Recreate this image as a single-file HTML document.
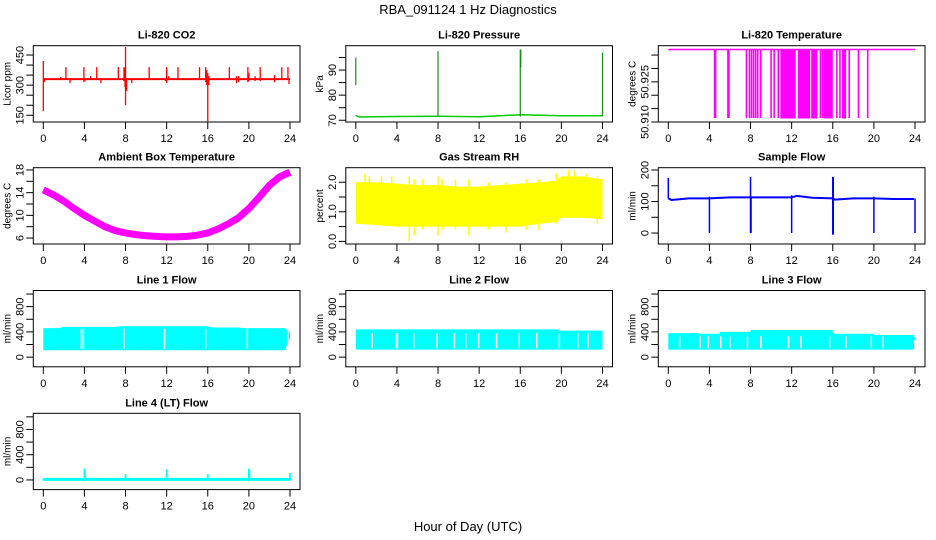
<!DOCTYPE html>
<html><head><meta charset="utf-8"><style>
html,body{margin:0;padding:0;background:#fff}
svg{display:block;font-family:"Liberation Sans",Arial,sans-serif}
</style></head><body>
<svg id="chart" width="936" height="540" viewBox="0 0 936 540" xmlns="http://www.w3.org/2000/svg">
<text x="468" y="14" font-size="13" text-anchor="middle">RBA_091124  1 Hz Diagnostics</text>
<text x="468" y="531" font-size="13" text-anchor="middle">Hour of Day (UTC)</text>
</svg>
<script>
// ---- data ----
const xTicks = [0,4,8,12,16,20,24];
// CO2
const co2BaseHours = [0,24];
const co2BaseVals = [330,330];
const co2SpikeHours = [0,0.1,1.7,2.2,2.6,3.95,4.05,4.6,5.2,5.6,6.5,7.3,7.85,7.95,8.0,8.1,8.6,10.3,11.9,12.0,12.2,13.1,15.2,15.8,15.9,16.0,16.1,18.1,18.8,19.0,19.9,20.0,20.6,21.1,22.5,23.2,23.8,23.9];
const co2SpikeHigh = [420,335,340,390,335,390,335,345,390,330,330,390,390,385,490,335,330,390,330,390,345,390,390,390,375,360,345,390,345,345,390,360,345,390,350,390,390,330];
const co2SpikeLow  = [170,315,330,330,310,315,320,330,330,310,325,330,320,290,200,270,310,325,320,310,325,330,330,315,300,120,300,330,310,315,315,320,320,320,315,330,330,305];
// Pressure
const presBaseHours = [0,0.3,4,8,10,12,14,16,18,20,22,24];
const presBaseVals = [72,71.3,71.5,71.6,71.5,71.4,71.8,72.2,72.0,71.8,71.8,71.8];
const presSpikeHours = [0,8,16,16.05,24];
const presSpikeLow = [84,71.5,71.5,91,71.5];
const presSpikeHigh = [95,97.5,98.2,98.2,97];
// Li-820 temperature
const tempBase = 50.9371;
const tempDipHours = [4.5,4.6,5.8,5.9,7.6,7.9,8.1,8.3,8.5,8.7,9.0,10.0,10.3,10.7,14.8,15.0,16.4,16.7,17.6,18.5,19.4];
const tempDipLow = [50.9115,50.9115,50.9115,50.9115,50.9115,50.9115,50.9115,50.9115,50.9115,50.9115,50.9115,50.9115,50.9115,50.9115,50.9115,50.9115,50.9115,50.9115,50.9115,50.9115,50.9115];
const tempBlockStart = [10.9,12.6,13.9,15.1,16.9];
const tempBlockEnd = [12.4,13.8,14.5,16.0,17.3];
// Ambient box temperature
const ambHours = [0,1,2,3,4,5,6,7,8,9,10,11,12,13,14,15,16,17,18,19,20,21,22,23,24];
const ambVals = [14.5,13.6,12.5,11.2,10.0,9.0,8.0,7.3,6.9,6.6,6.4,6.3,6.2,6.2,6.3,6.5,6.9,7.6,8.5,9.6,11.2,13.2,15.3,16.8,17.6];
// Gas stream RH
const rhHours = [0,2,4,6,8,10,12,14,16,18,19.5,20,22,24];
const rhLow = [0.6,0.55,0.5,0.5,0.5,0.5,0.5,0.5,0.5,0.6,0.65,0.8,0.8,0.75];
const rhHigh = [2.0,2.0,1.95,1.9,1.9,1.85,1.85,1.9,1.95,2.0,2.05,2.2,2.2,2.1];
const rhSpikeHours = [0.9,1.3,2.5,3.5,5.2,5.7,6.5,8.0,8.4,9.7,11.0,12.9,14.6,16.6,17.8,19.5,20.7,21.3,22.4,23.5];
const rhSpikeLow = [0.8,0.8,0.8,0.8,0.0,0.2,0.4,0.2,0.4,0.4,0.2,0.4,0.3,0.4,0.4,0.6,1.0,1.0,0.9,0.6];
const rhSpikeHigh = [2.3,2.2,2.2,2.2,2.2,2.1,2.1,2.2,2.1,2.1,2.1,2.0,2.0,2.1,2.1,2.3,2.4,2.4,2.3,2.2];
// Sample flow
const sfHours = [0,0.3,2,4,6,8,10,12,12.5,14,16,16.2,18,20,22,23.9];
const sfVals = [110,105,110,110,113,113,113,113,118,112,110,106,110,110,108,108];
const sfSpikeHours = [0,4,8,8.05,12,16,16.05,20,24];
const sfSpikeLow = [110,0,0,0,0,-5,-5,0,0];
const sfSpikeHigh = [175,115,178,115,120,178,178,115,110];
// Line flows
const l1Hours = [0,1.5,2,7,7.5,16,16.5,19,19.5,23.5,24];
const l1High = [460,460,480,480,490,490,470,470,460,460,400];
const l1Low = [110,110,110,110,110,110,110,110,110,110,300];
const l1Gaps = [3.7,3.9,7.85,11.8,15.8,19.85,23.8];
const l2Hours = [0,19.5,20,24];
const l2High = [440,440,420,420];
const l2Low = [120,120,120,120];
const l2Gaps = [1.6,3.9,4.05,5.65,7.9,9.6,10.7,11.95,13.7,15.9,17.6,19.8,21.6,22.6];
const l3Hours = [0,3,3.01,5,5.01,8,8.01,16,16.01,20,20.01,23.9,23.91,24];
const l3High = [380,380,370,370,400,400,430,430,370,370,350,350,320,320];
const l3Low = [120,120,120,120,120,120,120,120,120,120,120,120,270,270];
const l3Gaps = [1.1,3.1,3.9,5.1,6.0,7.7,9.0,11.7,12.9,15.7,17.3,19.75,20.9];
const l4Hours = [0,24];
const l4Vals = [10,10];
const l4SpikeHours = [0,4,4.05,8,12,16,20,20.05,24];
const l4SpikeHigh = [20,180,150,90,170,90,180,150,110];
const l4SpikeLow = [-5,-20,0,0,0,-10,-20,-10,-10];

// ---- layout ----
const svg = document.getElementById('chart');
const NS = 'http://www.w3.org/2000/svg';
const colX = [33.3,345.8,658.3], rowY = [45.7,167.7,290.5,413.3];
const PW = 266.7, PH = 76.3;
function mk(tag, attrs, parent){const e=document.createElementNS(NS,tag);for(const k in attrs)e.setAttribute(k,attrs[k]);(parent||svg).appendChild(e);return e;}

function panel(col,row,title,ylab,ymin,ymax,ticks,labels,name){
  const p={x0:colX[col],y0:rowY[row],ymin,ymax};
  p.sx=h=>p.x0+10+h*(246.7/24);
  p.sy=v=>p.y0+PH-(v-ymin)/(ymax-ymin)*PH;
  const g=mk('g',{});
  
  
  p.g=g;
  const clip=mk('clipPath',{id:'c'+name},g);
  mk('rect',{x:p.x0,y:p.y0,width:PW,height:PH},clip);
  p.plot=mk('g',{'clip-path':'url(#c'+name+')'},g);
  const box=mk('rect',{x:p.x0,y:p.y0,width:PW,height:PH,fill:'none',stroke:'#000','stroke-width':1},g);
  
  
  const t=mk('text',{x:p.x0+PW/2,y:p.y0-7,'font-size':11,'font-weight':'bold','text-anchor':'middle'},g);
  t.textContent=title;
  
  
  const by=p.y0+PH;
  xTicks.forEach(h=>{
    mk('line',{x1:p.sx(h),x2:p.sx(h),y1:by,y2:by+7,stroke:'#000'},g);
    const l=mk('text',{x:p.sx(h),y:by+20,'font-size':11,'text-anchor':'middle'},g);
    l.textContent=h;
    
    
  });
  const ax=p.x0;
  ticks.forEach((v,i)=>{
    mk('line',{x1:ax-7,x2:ax,y1:p.sy(v),y2:p.sy(v),stroke:'#000'},g);
    if(labels[i]!==''){
      const yy=p.sy(v);
      const l=mk('text',{x:ax-10,y:yy,'font-size':11,'text-anchor':'middle',transform:`rotate(-90 ${ax-10} ${yy})`},g);
      l.textContent=labels[i];
      
      
    }
  });
  const yl=p.x0-23, ym=p.y0+PH/2;
  const yt=mk('text',{x:yl,y:ym,'font-size':10,'text-anchor':'middle',transform:`rotate(-90 ${yl} ${ym})`},g);
  yt.textContent=ylab;
  
  
  return p;
}
function line(p,hs,vs,color,w,nm){
  const e=mk('polyline',{points:hs.map((h,i)=>p.sx(h)+','+p.sy(vs[i])).join(' '),fill:'none',stroke:color,'stroke-width':w||1},p.plot);
  
  
}
function spikes(p,hs,lo,hi,color,nm,w){
  hs.forEach((h,i)=>{
    const e=mk('line',{x1:p.sx(h),x2:p.sx(h),y1:p.sy(lo[i]),y2:p.sy(hi[i]),stroke:color,'stroke-width':w||1.3},p.plot);
    
    
  });
}
function band(p,hs,lo,hi,color,nm){
  const pts=hs.map((h,i)=>p.sx(h)+','+p.sy(hi[i])).concat(hs.slice().reverse().map((h,j)=>p.sx(h)+','+p.sy(lo[hs.length-1-j])));
  const e=mk('polygon',{points:pts.join(' '),fill:color},p.plot);
  
  
}
function gaps(p,hs,lo,hi,nm){
  hs.forEach(h=>{
    const e=mk('line',{x1:p.sx(h),x2:p.sx(h),y1:p.sy(lo),y2:p.sy(hi),stroke:'#fff','stroke-width':1.5},p.plot);
    
    
  });
}

let p=panel(0,0,'Li-820 CO2','Licor ppm',116.5,496.5,[150,200,250,300,350,400,450],['150','','','300','','','450'],'co2-panel');
line(p,co2BaseHours,co2BaseVals,'#f00',2,'co2-series');
spikes(p,co2SpikeHours,co2SpikeLow,co2SpikeHigh,'#f00','co2-spike');
p=panel(1,0,'Li-820 Pressure','kPa',69.3,99.7,[70,75,80,85,90,95],['70','','80','','90',''],'pressure-panel');
line(p,presBaseHours,presBaseVals,'#0c0',1.5,'pressure-series');
spikes(p,presSpikeHours,presSpikeLow,presSpikeHigh,'#1a8a1a','pressure-spike',1.2);
p=panel(2,0,'Li-820 Temperature','degrees C',50.910,50.9385,[50.910,50.915,50.920,50.925,50.930,50.935],['50.910','','','50.925','',''],'li820-temp-panel');
line(p,[0,24],[tempBase,tempBase],'#f0f',1.5,'li820-temp-series');
spikes(p,tempDipHours,tempDipLow,tempDipHours.map(()=>tempBase),'#f0f','li820-temp-dip',1.6);
tempBlockStart.forEach((s,i)=>{
  const e=mk('rect',{x:p.sx(s),y:p.sy(tempBase),width:p.sx(tempBlockEnd[i])-p.sx(s),height:p.sy(50.9113)-p.sy(tempBase),fill:'#f0f'},p.plot);
  
  
});
p=panel(0,1,'Ambient Box Temperature','degrees C',4.95,18.4,[6,8,10,12,14,16,18],['6','','10','','14','','18'],'ambient-temp-panel');
line(p,ambHours,ambVals,'#f0f',7,'ambient-temp-series');
p=panel(1,1,'Gas Stream RH','percent',-0.088,2.49,[0,0.5,1,1.5,2],['0.0','','1.0','','2.0'],'rh-panel');
band(p,rhHours,rhLow,rhHigh,'#ff0','rh-band');
spikes(p,rhSpikeHours,rhSpikeLow,rhSpikeHigh,'#ff0','rh-spike',1.5);
p=panel(2,1,'Sample Flow','ml/min',-34.8,207.3,[0,50,100,150,200],['0','','100','','200'],'sample-flow-panel');
line(p,sfHours,sfVals,'#00f',2,'sample-flow-series');
spikes(p,sfSpikeHours,sfSpikeLow,sfSpikeHigh,'#00f','sample-flow-spike',1.5);
const fT=[0,200,400,600,800,1000], fL=['0','','400','','800',''];
p=panel(0,2,'Line 1 Flow','ml/min',-153,1056,fT,fL,'line1-flow-panel');
band(p,l1Hours,l1Low,l1High,'#0ff','line1-flow-band');
gaps(p,l1Gaps,130,450,'line1-flow-gap');
p=panel(1,2,'Line 2 Flow','ml/min',-153,1056,fT,fL,'line2-flow-panel');
band(p,l2Hours,l2Low,l2High,'#0ff','line2-flow-band');
gaps(p,l2Gaps,140,380,'line2-flow-gap');
p=panel(2,2,'Line 3 Flow','ml/min',-153,1056,fT,fL,'line3-flow-panel');
band(p,l3Hours,l3Low,l3High,'#0ff','line3-flow-band');
gaps(p,l3Gaps,140,330,'line3-flow-gap');
p=panel(0,3,'Line 4 (LT) Flow','ml/min',-153,1056,fT,fL,'line4-flow-panel');
line(p,l4Hours,l4Vals,'#0ff',3,'line4-flow-series');
spikes(p,l4SpikeHours,l4SpikeLow,l4SpikeHigh,'#0ff','line4-flow-spike',1.8);
</script>
</body></html>
